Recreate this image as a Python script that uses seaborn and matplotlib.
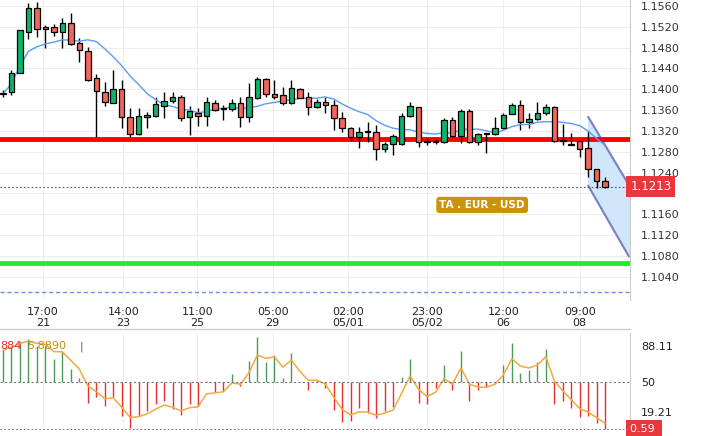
import matplotlib
matplotlib.use("Agg")
import matplotlib.pyplot as plt
import seaborn as sns
import numpy as np
import pandas as pd

# OHLC (72 candles)
opens = [1.1391, 1.1395, 1.1431, 1.1510, 1.1556, 1.1520, 1.1520, 1.1510, 1.1527, 1.1489,
         1.1474, 1.1421, 1.1395, 1.1374, 1.1401, 1.1347, 1.1314, 1.1347, 1.1349, 1.1368,
         1.1378, 1.1385, 1.1347, 1.1355, 1.1349, 1.1374, 1.1364, 1.1362, 1.1374, 1.1347,
         1.1383, 1.1420, 1.1391, 1.1389, 1.1374, 1.1401, 1.1385, 1.1366, 1.1376, 1.1370,
         1.1345, 1.1325, 1.1309, 1.1318, 1.1318, 1.1285, 1.1295, 1.1295, 1.1349, 1.1366,
         1.1300, 1.1300, 1.1299, 1.1341, 1.1310, 1.1358, 1.1299, 1.1314, 1.1314, 1.1326,
         1.1353, 1.1370, 1.1337, 1.1343, 1.1355, 1.1366, 1.1302, 1.1295, 1.1300, 1.1287,
         1.1247, 1.1224]
highs = [1.1399, 1.1437, 1.1431, 1.1566, 1.1568, 1.1524, 1.1525, 1.1537, 1.1547, 1.1498,
         1.1481, 1.1429, 1.1414, 1.1437, 1.1418, 1.1364, 1.1364, 1.1357, 1.1385, 1.1395,
         1.1395, 1.1389, 1.1368, 1.1364, 1.1385, 1.1380, 1.1370, 1.1381, 1.1385, 1.1412,
         1.1424, 1.1422, 1.1418, 1.1404, 1.1418, 1.1403, 1.1395, 1.1381, 1.1385, 1.1380,
         1.1357, 1.1328, 1.1328, 1.1337, 1.1332, 1.1299, 1.1314, 1.1355, 1.1376, 1.1366,
         1.1306, 1.1305, 1.1345, 1.1347, 1.1362, 1.1362, 1.1316, 1.1316, 1.1347, 1.1355,
         1.1374, 1.1380, 1.1355, 1.1376, 1.1372, 1.1368, 1.1333, 1.1316, 1.1300, 1.1320,
         1.1247, 1.1232]
lows = [1.1385, 1.1389, 1.1431, 1.1497, 1.1500, 1.1479, 1.1502, 1.1479, 1.1485, 1.1452,
        1.1416, 1.1309, 1.1368, 1.1374, 1.1326, 1.1309, 1.1312, 1.1326, 1.1347, 1.1345,
        1.1374, 1.1339, 1.1312, 1.1330, 1.1330, 1.1358, 1.1341, 1.1358, 1.1328, 1.1337,
        1.1381, 1.1385, 1.1381, 1.1370, 1.1372, 1.1383, 1.1351, 1.1364, 1.1355, 1.1322,
        1.1318, 1.1300, 1.1287, 1.1299, 1.1264, 1.1280, 1.1274, 1.1293, 1.1347, 1.1289,
        1.1293, 1.1295, 1.1297, 1.1309, 1.1297, 1.1297, 1.1293, 1.1278, 1.1312, 1.1324,
        1.1353, 1.1322, 1.1326, 1.1341, 1.1351, 1.1299, 1.1293, 1.1293, 1.1270, 1.1232,
        1.1211, 1.1211]
closes = [1.1391, 1.1431, 1.1514, 1.1556, 1.1516, 1.1516, 1.1510, 1.1527, 1.1487, 1.1476,
          1.1418, 1.1397, 1.1376, 1.1401, 1.1347, 1.1314, 1.1349, 1.1351, 1.1372, 1.1378,
          1.1385, 1.1345, 1.1358, 1.1349, 1.1376, 1.1360, 1.1362, 1.1374, 1.1347, 1.1385,
          1.1420, 1.1391, 1.1385, 1.1374, 1.1403, 1.1383, 1.1366, 1.1376, 1.1370, 1.1345,
          1.1325, 1.1309, 1.1318, 1.1320, 1.1285, 1.1295, 1.1310, 1.1349, 1.1368, 1.1299,
          1.1299, 1.1299, 1.1341, 1.1310, 1.1358, 1.1299, 1.1314, 1.1316, 1.1326, 1.1351,
          1.1370, 1.1337, 1.1343, 1.1355, 1.1366, 1.1300, 1.1301, 1.1294, 1.1285, 1.1247,
          1.1224, 1.1213]

# oscillator bars (lower panel), centred on 50
osc = [83.8, 88.9, 94.1, 95.8, 88.9, 88.9, 75.1, 82.0, 64.1, 55.2,
       28.6, 34.5, 25.2, 34.5, 14.2, 2.1, 14.9, 20.0, 26.9, 30.4,
       21.7, 15.9, 26.9, 25.2, 51.7, 40.0, 41.4, 59.0, 46.6, 72.7,
       97.5, 71.7, 78.6, 55.2, 81.0, 50.3, 42.4, 52.8, 44.1, 20.7,
       8.7, 9.7, 22.7, 18.3, 12.1, 20.0, 24.1, 56.2, 75.1, 28.6,
       27.6, 44.1, 68.3, 42.4, 82.7, 30.4, 42.4, 44.8, 51.0, 68.3,
       91.7, 59.6, 63.1, 71.7, 85.5, 26.9, 30.4, 22.7, 13.1, 14.9,
       7.0, 1.2]

price_ticks = [1.1560, 1.1520, 1.1480, 1.1440, 1.1400, 1.1360, 1.1320, 1.1280,
               1.1240, 1.1200, 1.1160, 1.1120, 1.1080, 1.1040]
time_pos = [4.7, 14.2, 22.9, 31.8, 40.7, 50.0, 59.0, 68.0]
time_labels = ["17:00\n21", "14:00\n23", "11:00\n25", "05:00\n29",
               "02:00\n05/01", "23:00\n05/02", "12:00\n06", "09:00\n08"]
resistance = 1.1305
support = 1.1067
lower_dash = 1.1011
last_price = 1.1213
channel_x = [69.0, 73.8]
channel_top = [1.1347, 1.1216]
channel_bot = [1.1215, 1.1079]

df = pd.DataFrame({"i": np.arange(len(closes)), "o": opens, "h": highs,
                   "l": lows, "c": closes, "osc": osc})
df["ma"] = df["c"].rolling(10, min_periods=1).mean()
df["sig"] = df["osc"].ewm(span=3).mean()

sns.set_style("white")
fig = plt.figure(figsize=(7.06, 4.36), dpi=100)
ax = fig.add_axes([0, 0.312, 0.892, 0.688])
ax2 = fig.add_axes([0, 0.014, 0.892, 0.222])
xlim = (-0.35, 73.9)

GREEN, RED = "#0fb46a", "#f2665c"
for a in (ax, ax2):
    a.set_xlim(*xlim)
    for p in time_pos:
        a.axvline(p, color="#eeeeee", lw=0.8, zorder=0)

ax.set_ylim(1.09955, 1.15715)
for t in price_ticks:
    ax.axhline(t, color="#eeeeee", lw=0.8, zorder=0)

# channel
ax.fill_between(channel_x, channel_bot, channel_top, color="#cfe6fb", zorder=1)
ax.plot(channel_x, channel_top, color="#7b7fc4", lw=1.5, zorder=2)
ax.plot(channel_x, channel_bot, color="#7b7fc4", lw=1.5, zorder=2)

ax.axhline(resistance, color="#ff0000", lw=3.5, zorder=3)
ax.axhline(support, color="#22ee22", lw=3.5, zorder=3)
ax.axhline(lower_dash, color="#6f8fe0", lw=1, ls=(0, (3, 2)), zorder=3)
ax.axhline(last_price, color="#555555", lw=0.8, ls=(0, (1.5, 2)), zorder=3)

colors = np.where(df["c"] >= df["o"], GREEN, RED)
ax.vlines(df["i"], df["l"], df["h"], color="black", lw=1, zorder=4)
body = (df["c"] - df["o"]).abs().clip(lower=0.00012)
ax.bar(df["i"], body, bottom=np.minimum(df["o"], df["c"]), width=0.65,
       color=colors, edgecolor="black", linewidth=0.9, zorder=5)
sns.lineplot(data=df, x="i", y="ma", ax=ax, color="#5b9cf0", lw=1, zorder=4)

ax.set_xticks([])
ax.set_yticks(price_ticks)
ax.yaxis.tick_right()
ax.set_yticklabels(["" if abs(t - 1.12) < 1e-6 else f"{t:.4f}" for t in price_ticks],
                   fontsize=8, color="#333333")
ax.tick_params(axis="y", length=0, pad=8)
ax.set_xlabel("")
ax.set_ylabel("")
for s in ["top", "left", "bottom"]:
    ax.spines[s].set_visible(False)
ax.spines["right"].set_color("#cccccc")

ax.text(73.95, last_price, "1.1213", ha="left", va="center", fontsize=8.5, color="white",
        bbox=dict(boxstyle="square,pad=0.35", fc="#e8383b", ec="none"), clip_on=False)
ax.text(56.5, 1.1178, "TA . EUR - USD", ha="center", va="center", fontsize=7.5,
        color="white", fontweight="bold",
        bbox=dict(boxstyle="round,pad=0.3", fc="#c8950a", ec="none"))

# time labels between the panels
for p, lab in zip(time_pos, time_labels):
    fig.text((p - xlim[0]) / (xlim[1] - xlim[0]) * 0.892, 0.272, lab, ha="center",
             va="center", fontsize=8, color="#222222", linespacing=1.1)
fig.add_artist(plt.Line2D([0, 0.892], [0.245, 0.245], color="#cccccc", lw=1))

# lower panel
ax2.set_ylim(0, 102)
base = 50
bcol = np.where(df["osc"] >= base, "#4c9a5a", "#e83030")
ax2.vlines(df["i"], base, df["osc"], colors=bcol, lw=1)
sns.lineplot(data=df, x="i", y="sig", ax=ax2, color="#f5a941", lw=1.1)
ax2.axhline(50, color="#777777", lw=0.8, ls=(0, (2, 2)))
ax2.axhline(0.6, color="#777777", lw=0.8, ls=(0, (1.5, 2)))
ax2.set_xticks([])
ax2.yaxis.tick_right()
ax2.set_yticks([88.11, 50, 19.21])
ax2.set_yticklabels(["88.11", "50", "19.21"], fontsize=8, color="#222222")
ax2.tick_params(axis="y", length=0, pad=8)
ax2.set_xlabel("")
ax2.set_ylabel("")
for s in ["top", "left", "bottom"]:
    ax2.spines[s].set_visible(False)
ax2.spines["right"].set_color("#cccccc")
ax2.text(73.95, 0.6, "0.59 ", ha="left", va="center", fontsize=8, color="white",
         bbox=dict(boxstyle="square,pad=0.35", fc="#e8383b", ec="none"), clip_on=False)
ax2.text(-0.3, 88, "884", color="#e83030", fontsize=8, va="center")
ax2.text(2.9, 88, "5.8890", color="#c8880a", fontsize=8, va="center")
ax2.text(9.0, 88, "|", color="#555555", fontsize=8, va="center")

fig.savefig("out.png", dpi=100)
